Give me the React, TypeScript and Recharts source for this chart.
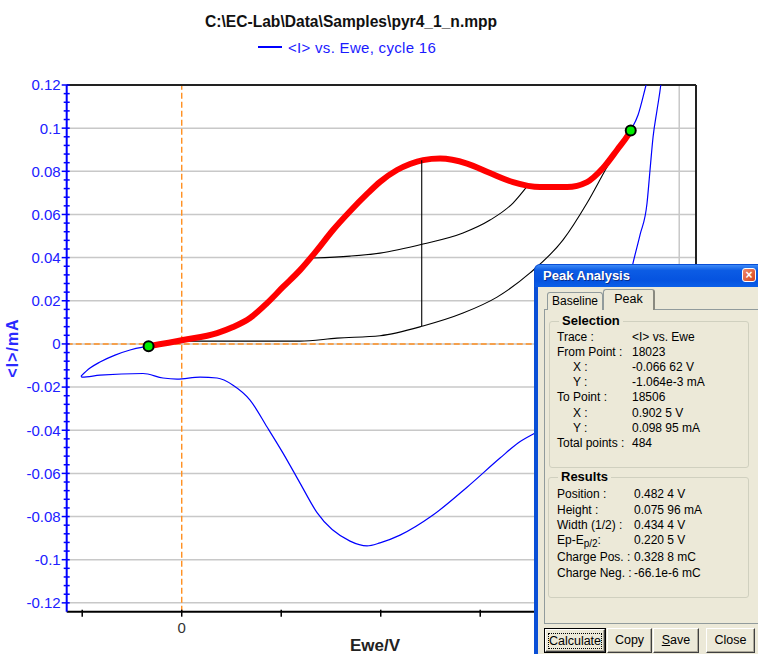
import React from 'react'
import { ComposedChart, Line, Scatter, XAxis, YAxis, ReferenceLine } from 'recharts'

// cycle 16, forward scan (Ewe in V, <I> in mA); turning point lies above the plot
const CYCLE_FORWARD = [
  { x: -0.2024, y: -0.0149 },
  { x: -0.1843, y: -0.0112 },
  { x: -0.1643, y: -0.0084 },
  { x: -0.1341, y: -0.0052 },
  { x: -0.1039, y: -0.0028 },
  { x: -0.0778, y: -0.0015 },
  { x: -0.0666, y: -0.0011 },
  { x: 0.0026, y: 0.0018 },
  { x: 0.071, y: 0.005 },
  { x: 0.1031, y: 0.0078 },
  { x: 0.1373, y: 0.012 },
  { x: 0.1715, y: 0.0189 },
  { x: 0.2036, y: 0.0264 },
  { x: 0.2378, y: 0.0342 },
  { x: 0.272, y: 0.0435 },
  { x: 0.3041, y: 0.0528 },
  { x: 0.3383, y: 0.0615 },
  { x: 0.3725, y: 0.0695 },
  { x: 0.3986, y: 0.0751 },
  { x: 0.4328, y: 0.0806 },
  { x: 0.4589, y: 0.0834 },
  { x: 0.485, y: 0.0852 },
  { x: 0.5192, y: 0.0859 },
  { x: 0.5735, y: 0.0836 },
  { x: 0.6197, y: 0.0792 },
  { x: 0.6659, y: 0.075 },
  { x: 0.7202, y: 0.0727 },
  { x: 0.7745, y: 0.0727 },
  { x: 0.8147, y: 0.075 },
  { x: 0.8468, y: 0.0815 },
  { x: 0.875, y: 0.0899 },
  { x: 0.8971, y: 0.0968 },
  { x: 0.9025, y: 0.099 },
  { x: 0.9172, y: 0.1061 },
  { x: 0.9333, y: 0.12 },
  { x: 0.9453, y: 0.1307 },
  { x: 0.955, y: 0.142 },
]

// cycle 16, reverse scan back to the starting potential
const CYCLE_REVERSE = [
  { x: 0.972, y: 0.142 },
  { x: 0.9629, y: 0.12 },
  { x: 0.9554, y: 0.1084 },
  { x: 0.9474, y: 0.0959 },
  { x: 0.9413, y: 0.0806 },
  { x: 0.9353, y: 0.0653 },
  { x: 0.9212, y: 0.0505 },
  { x: 0.9071, y: 0.0375 },
  { x: 0.891, y: 0.0204 },
  { x: 0.871, y: 0.0041 },
  { x: 0.8408, y: -0.0121 },
  { x: 0.8006, y: -0.026 },
  { x: 0.7504, y: -0.0362 },
  { x: 0.7142, y: -0.0408 },
  { x: 0.676, y: -0.0459 },
  { x: 0.6398, y: -0.0529 },
  { x: 0.5735, y: -0.0664 },
  { x: 0.5051, y: -0.0793 },
  { x: 0.4388, y: -0.0886 },
  { x: 0.3986, y: -0.0922 },
  { x: 0.3725, y: -0.0936 },
  { x: 0.3383, y: -0.0914 },
  { x: 0.272, y: -0.0782 },
  { x: 0.2378, y: -0.0645 },
  { x: 0.2036, y: -0.0506 },
  { x: 0.1715, y: -0.0385 },
  { x: 0.1373, y: -0.026 },
  { x: 0.1031, y: -0.0191 },
  { x: 0.071, y: -0.0158 },
  { x: 0.0368, y: -0.0154 },
  { x: -0.0094, y: -0.0163 },
  { x: -0.0376, y: -0.0158 },
  { x: -0.0778, y: -0.0137 },
  { x: -0.1643, y: -0.0145 },
  { x: -0.2004, y: -0.0154 },
  { x: -0.2024, y: -0.0149 },
]

// selected peak region (From Point 18023 to Point 18506)
const PEAK_RANGE = [
  { x: -0.06662, y: -0.001064 },
  { x: 0.0026, y: 0.0018 },
  { x: 0.071, y: 0.005 },
  { x: 0.1031, y: 0.0078 },
  { x: 0.1373, y: 0.012 },
  { x: 0.1715, y: 0.0189 },
  { x: 0.2036, y: 0.0264 },
  { x: 0.2378, y: 0.0342 },
  { x: 0.272, y: 0.0435 },
  { x: 0.3041, y: 0.0528 },
  { x: 0.3383, y: 0.0615 },
  { x: 0.3725, y: 0.0695 },
  { x: 0.3986, y: 0.0751 },
  { x: 0.4328, y: 0.0806 },
  { x: 0.4589, y: 0.0834 },
  { x: 0.485, y: 0.0852 },
  { x: 0.5192, y: 0.0859 },
  { x: 0.5735, y: 0.0836 },
  { x: 0.6197, y: 0.0792 },
  { x: 0.6659, y: 0.075 },
  { x: 0.7202, y: 0.0727 },
  { x: 0.7745, y: 0.0727 },
  { x: 0.8147, y: 0.075 },
  { x: 0.8468, y: 0.0815 },
  { x: 0.875, y: 0.0899 },
  { x: 0.8971, y: 0.0968 },
  { x: 0.9025, y: 0.09895 },
]

const BASELINE_LOW = [
  { x: -0.06662, y: -0.001064 },
  { x: 0.0026, y: 0.0013 },
  { x: 0.2378, y: 0.0013 },
  { x: 0.3122, y: 0.0027 },
  { x: 0.3986, y: 0.0038 },
  { x: 0.485, y: 0.0083 },
  { x: 0.5654, y: 0.0143 },
  { x: 0.6338, y: 0.0217 },
  { x: 0.7001, y: 0.0329 },
  { x: 0.7665, y: 0.0482 },
  { x: 0.8147, y: 0.0653 },
  { x: 0.8549, y: 0.082 },
  { x: 0.887, y: 0.0945 },
  { x: 0.9025, y: 0.09895 },
]

const BASELINE_HIGH = [
  { x: 0.2643, y: 0.0398 },
  { x: 0.3383, y: 0.0407 },
  { x: 0.3986, y: 0.0421 },
  { x: 0.485, y: 0.0463 },
  { x: 0.5654, y: 0.0514 },
  { x: 0.6197, y: 0.0574 },
  { x: 0.6659, y: 0.0653 },
  { x: 0.6961, y: 0.0736 },
]

const PEAK_HEIGHT = [
  { x: 0.4824, y: 0.0083 },
  { x: 0.4824, y: 0.0851 },
]

const END_POINTS = [
  { x: -0.06662, y: -0.001064 },
  { x: 0.9025, y: 0.09895 },
]

const X_TICKS = [-0.2, 0, 0.2, 0.4, 0.6, 0.8, 1.0]
const X_LABELS = ['', '0', '', '', '', '', '']
const Y_MAJOR = [-0.12, -0.1, -0.08, -0.06, -0.04, -0.02, 0, 0.02, 0.04, 0.06, 0.08, 0.1, 0.12]
const Y_LABELS = ['-0.12', '-0.1', '-0.08', '-0.06', '-0.04', '-0.02', '0', '0.02', '0.04', '0.06', '0.08', '0.1', '0.12']
const Y_MINOR_PER_MAJOR = 5
const Y_GRID = [-0.12, -0.1, -0.08, -0.06, -0.04, -0.02, 0, 0.02, 0.04, 0.06, 0.08, 0.1]

const X_DOMAIN = [-0.2312, 1.0337]
const Y_DOMAIN = [-0.1241, 0.12]

const yTicks: number[] = []
Y_MAJOR.forEach((m, i) => {
  yTicks.push(m)
  if (i < Y_MAJOR.length - 1) {
    const step = (Y_MAJOR[i + 1] - m) / Y_MINOR_PER_MAJOR
    for (let k = 1; k < Y_MINOR_PER_MAJOR; k++) yTicks.push(m + step * k)
  }
})

const FONT = '"Liberation Sans", Arial, sans-serif'
const AXIS_BLUE = '#0000ff'
const ORANGE = '#ff8f1f'

function XTick(props: any) {
  const { x, y, payload } = props
  const i = X_TICKS.findIndex((t) => Math.abs(t - payload.value) < 1e-9)
  const label = i >= 0 ? X_LABELS[i] : ''
  return (
    <g>
      <line x1={x} x2={x} y1={y - 2} y2={y + 5} stroke="#000" strokeWidth={1.5} />
      {label && (
        <text x={x} y={y + 21} textAnchor="middle" fontSize={15} fill="#333" fontFamily={FONT}>
          {label}
        </text>
      )}
    </g>
  )
}

function YTick(props: any) {
  const { x, y, payload } = props
  const i = Y_MAJOR.findIndex((t) => Math.abs(t - payload.value) < 1e-9)
  const major = i >= 0
  return (
    <g>
      <line x1={major ? x - 5 : x - 3} x2={x + 3} y1={y} y2={y} stroke={AXIS_BLUE} strokeWidth={1.5} />
      {major && (
        <text x={x - 6} y={y} dy="0.36em" textAnchor="end" fontSize={15} fill="#2020ff" fontFamily={FONT}>
          {Y_LABELS[i]}
        </text>
      )}
    </g>
  )
}

function Dot(props: any) {
  return <circle cx={props.cx} cy={props.cy} r={5} fill="#00ee00" stroke="#000" strokeWidth={2} />
}

function Txt({ x, y, children, bold, size = 12 }: any) {
  return (
    <div
      style={{
        position: 'absolute',
        left: x,
        top: y - 8,
        lineHeight: '16px',
        fontSize: size,
        fontWeight: bold ? 'bold' : 'normal',
        whiteSpace: 'nowrap',
        color: '#000',
      }}
    >
      {children}
    </div>
  )
}

const SELECTION_ROWS = [
  ['Trace :', '<I> vs. Ewe', 0],
  ['From Point :', '18023', 0],
  ['X :', '-0.066 62 V', 1],
  ['Y :', '-1.064e-3 mA', 1],
  ['To Point :', '18506', 0],
  ['X :', '0.902 5 V', 1],
  ['Y :', '0.098 95 mA', 1],
  ['Total points :', '484', 0],
]
const SELECTION_Y = [337, 352, 367, 382, 397, 413, 428, 443]

const RESULT_ROWS = [
  ['Position :', '0.482 4 V'],
  ['Height :', '0.075 96 mA'],
  ['Width (1/2) :', '0.434 4 V'],
  ['Ep-Ep/2 :', '0.220 5 V'],
  ['Charge Pos. :', '0.328 8 mC'],
  ['Charge Neg. :', '-66.1e-6 mC'],
]
const RESULT_Y = [494, 510, 525, 540, 557, 573]

function Button({ x, w, label, focus, underline }: any) {
  return (
    <div
      style={{
        position: 'absolute',
        left: x,
        top: 628,
        width: w,
        height: 25,
        boxSizing: 'border-box',
        border: focus ? '1px solid #000' : 'none',
      }}
    >
      <div
        style={{
          position: 'absolute',
          inset: 0,
          borderTop: '1px solid #fff',
          borderLeft: '1px solid #fff',
          borderRight: '1px solid #404040',
          borderBottom: '1px solid #404040',
          boxShadow: 'inset -1px -1px 0 #aca899',
          background: '#ECE9D8',
          fontSize: 12.5,
          lineHeight: '22px',
          textAlign: 'center',
        }}
      >
        <span style={focus ? { outline: '1px dotted #000', outlineOffset: 0 } : undefined}>
          {underline ? (
            <>
              <u>{label[0]}</u>
              {label.slice(1)}
            </>
          ) : (
            label
          )}
        </span>
      </div>
    </div>
  )
}

function GroupBox({ x, y, w, h, title }: any) {
  return (
    <>
      <div
        style={{
          position: 'absolute',
          left: x,
          top: y,
          width: w,
          height: h,
          boxSizing: 'border-box',
          border: '1px solid #D0D0BF',
          borderRadius: 3,
        }}
      />
      <div
        style={{
          position: 'absolute',
          left: x + 10,
          top: y - 8,
          padding: '0 3px',
          background: '#ECE9D8',
          fontSize: 13,
          fontWeight: 'bold',
          lineHeight: '16px',
        }}
      >
        {title}
      </div>
    </>
  )
}

function PeakPanel() {
  return (
    <div style={{ position: 'absolute', left: 0, top: 0, width: 758, height: 654, pointerEvents: 'none', fontFamily: FONT }}>
      {/* window frame */}
      <div style={{ position: 'absolute', left: 534, top: 264, width: 226, height: 392, background: '#0A4FD6', borderRadius: '6px 0 0 0' }} />
      <div
        style={{
          position: 'absolute',
          left: 535,
          top: 265,
          width: 224,
          height: 22,
          borderRadius: '5px 0 0 0',
          background: 'linear-gradient(#3d8af7 0%, #0c5ce4 25%, #0553e0 70%, #0b5fe8 100%)',
        }}
      />
      <div style={{ position: 'absolute', left: 543, top: 268, color: '#fff', fontWeight: 'bold', fontSize: 13, lineHeight: '16px', textShadow: '1px 1px 0 #0a2d8a' }}>
        Peak Analysis
      </div>
      <div
        style={{
          position: 'absolute',
          left: 742,
          top: 268,
          width: 14,
          height: 14,
          boxSizing: 'border-box',
          border: '1px solid #fff',
          borderRadius: 3,
          background: 'linear-gradient(135deg, #f08a6c, #d5431c)',
          color: '#fff',
          fontSize: 12,
          fontWeight: 'bold',
          lineHeight: '12px',
          textAlign: 'center',
        }}
      >
        ×
      </div>
      {/* dialog body */}
      <div style={{ position: 'absolute', left: 538, top: 287, width: 220, height: 367, background: '#ECE9D8' }} />
      {/* tab page */}
      <div style={{ position: 'absolute', left: 544, top: 309, width: 214, height: 315, boxSizing: 'border-box', border: '1px solid #919B9C', borderRight: 'none' }} />
      <div
        style={{
          position: 'absolute',
          left: 547,
          top: 292,
          width: 56,
          height: 18,
          boxSizing: 'border-box',
          border: '1px solid #919B9C',
          borderBottom: 'none',
          borderRadius: '3px 3px 0 0',
          background: '#ECE9D8',
          fontSize: 12,
          lineHeight: '17px',
          textAlign: 'center',
        }}
      >
        Baseline
      </div>
      <div
        style={{
          position: 'absolute',
          left: 603,
          top: 289,
          width: 52,
          height: 21,
          boxSizing: 'border-box',
          border: '1px solid #919B9C',
          borderBottom: 'none',
          borderRight: '2px solid #8a8a80',
          borderRadius: '3px 3px 0 0',
          background: '#ECE9D8',
          fontSize: 12.5,
          lineHeight: '18px',
          textAlign: 'center',
        }}
      >
        Peak
      </div>
      <GroupBox x={549} y={321} w={200} h={147} title="Selection" />
      {SELECTION_ROWS.map((r, i) => (
        <React.Fragment key={'s' + i}>
          <Txt x={r[2] ? 573 : 557} y={SELECTION_Y[i]}>{r[0]}</Txt>
          <Txt x={632} y={SELECTION_Y[i]}>{r[1]}</Txt>
        </React.Fragment>
      ))}
      <GroupBox x={548} y={477} w={201} h={121} title="Results" />
      {RESULT_ROWS.map((r, i) => (
        <React.Fragment key={'r' + i}>
          <Txt x={557} y={RESULT_Y[i]}>
            {r[0] === 'Ep-Ep/2 :' ? (
              <>
                Ep-E<sub style={{ fontSize: 10, verticalAlign: -3 }}>p/2</sub>:
              </>
            ) : (
              r[0]
            )}
          </Txt>
          <Txt x={634} y={RESULT_Y[i]}>{r[1]}</Txt>
        </React.Fragment>
      ))}
      <Button x={544} w={62} label="Calculate" focus />
      <Button x={607} w={45} label="Copy" />
      <Button x={653} w={46} label="Save" underline />
      <Button x={706} w={49} label="Close" />
    </div>
  )
}

const lineProps = { dataKey: 'y', dot: false, activeDot: false, isAnimationActive: false } as const

export default function App() {
  return (
    <div style={{ position: 'absolute', left: 0, top: 0, width: 758, height: 654, overflow: 'hidden', background: '#fff', fontFamily: FONT }}>
      <div style={{ position: 'absolute', left: 205, top: 13, fontSize: 16, fontWeight: 'bold', color: '#111', whiteSpace: 'nowrap', lineHeight: '18px', transformOrigin: 'left top', transform: 'scaleX(0.975)' }}>
        C:\EC-Lab\Data\Samples\pyr4_1_n.mpp
      </div>
      <div style={{ position: 'absolute', left: 258, top: 46, width: 24, height: 2, background: AXIS_BLUE }} />
      <div style={{ position: 'absolute', left: 288, top: 39, fontSize: 15, letterSpacing: 0.3, color: '#1a1aff', whiteSpace: 'nowrap', lineHeight: '17px' }}>
        {'<I> vs. Ewe, cycle 16'}
      </div>
      <div style={{ position: 'absolute', left: 0, top: 0 }}>
        <ComposedChart width={758} height={654} margin={{ top: 85, right: 62, bottom: 0, left: 0 }}>
          <XAxis
            type="number"
            dataKey="x"
            domain={X_DOMAIN}
            allowDataOverflow
            ticks={X_TICKS}
            interval={0}
            height={42.3}
            tickSize={0}
            tickMargin={0}
            tickLine={false}
            tick={<XTick />}
            axisLine={{ stroke: '#000', strokeWidth: 2 }}
          />
          <YAxis
            type="number"
            dataKey="y"
            domain={Y_DOMAIN}
            allowDataOverflow
            ticks={yTicks}
            interval={0}
            width={66.7}
            tickSize={0}
            tickMargin={0}
            tickLine={false}
            tick={<YTick />}
            axisLine={{ stroke: AXIS_BLUE, strokeWidth: 2 }}
          />
          {Y_GRID.map((v) => (
            <ReferenceLine key={'g' + v} y={v} stroke="#c8c8c8" strokeWidth={1.5} />
          ))}
          <ReferenceLine x={1.0} stroke="#c8c8c8" strokeWidth={1.5} />
          <ReferenceLine x={0} stroke={ORANGE} strokeWidth={1.4} strokeDasharray="6 3" />
          <ReferenceLine y={0} stroke={ORANGE} strokeWidth={1.4} strokeDasharray="6 3" />
          <ReferenceLine y={0.12} stroke="#222" strokeWidth={2} />
          <ReferenceLine x={X_DOMAIN[1]} stroke="#222" strokeWidth={2} />
          <Line {...lineProps} data={CYCLE_FORWARD} type="monotoneX" stroke="#0000ff" strokeWidth={1.2} />
          <Line {...lineProps} data={CYCLE_REVERSE} type="monotoneX" stroke="#0000ff" strokeWidth={1.2} />
          <Line {...lineProps} data={BASELINE_LOW} type="monotoneX" stroke="#000" strokeWidth={1.1} />
          <Line {...lineProps} data={BASELINE_HIGH} type="monotoneX" stroke="#000" strokeWidth={1.1} />
          <Line {...lineProps} data={PEAK_RANGE} type="monotoneX" stroke="#ff0000" strokeWidth={6} />
          <Line {...lineProps} data={PEAK_HEIGHT} type="linear" stroke="#000" strokeWidth={1.1} />
          <Scatter data={END_POINTS} dataKey="y" shape={<Dot />} isAnimationActive={false} />
        </ComposedChart>
      </div>
      <div
        style={{
          position: 'absolute',
          left: 13,
          top: 348,
          transform: 'translate(-50%, -50%) rotate(-90deg)',
          fontSize: 16,
          fontWeight: 'bold',
          color: '#2a2aff',
          letterSpacing: 1,
          whiteSpace: 'nowrap',
          lineHeight: '18px',
        }}
      >
        {'<I>/mA'}
      </div>
      <div style={{ position: 'absolute', left: 350, top: 636, fontSize: 17, fontWeight: 'bold', color: '#222', whiteSpace: 'nowrap', lineHeight: '20px' }}>
        Ewe/V
      </div>
      <PeakPanel />
    </div>
  )
}
